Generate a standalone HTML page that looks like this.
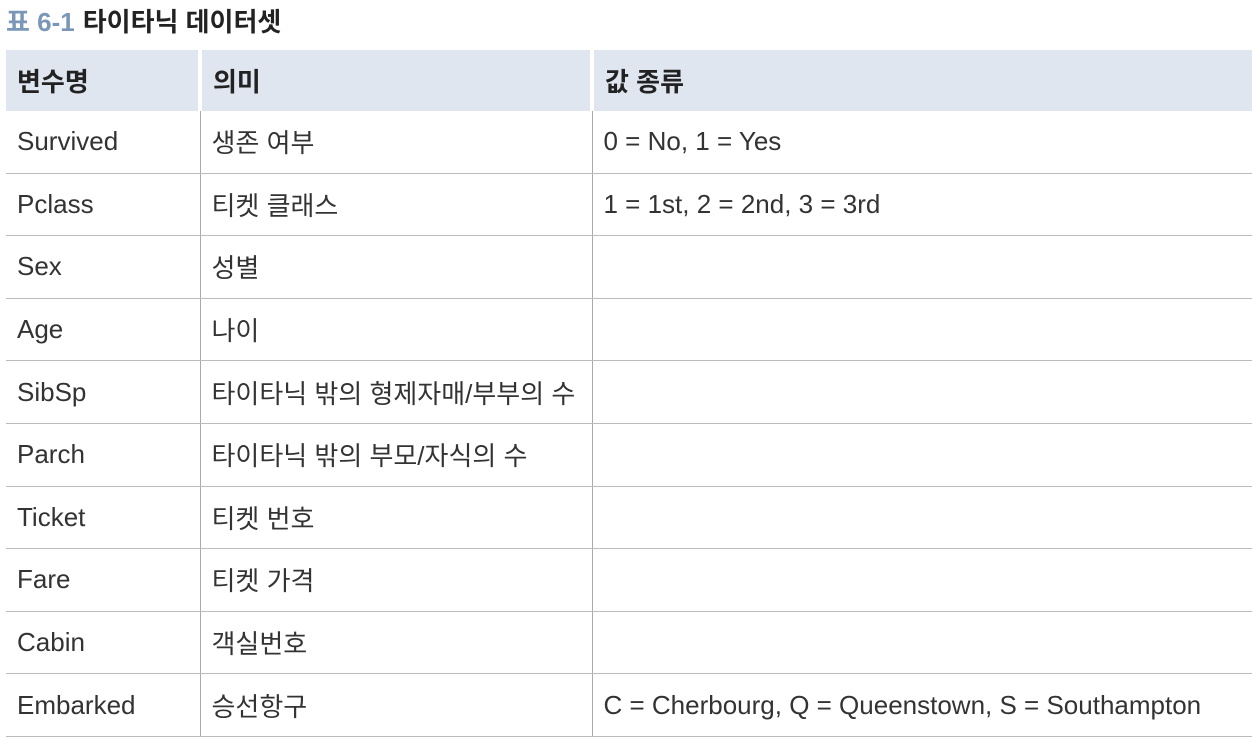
<!DOCTYPE html>
<html><head><meta charset="utf-8"><style>
html,body{margin:0;padding:0;background:#fff;width:1260px;height:744px;overflow:hidden}
body{font-family:"Liberation Sans","Noto Sans CJK KR",sans-serif;color:#333}
.title{position:absolute;left:6px;top:2px;font-size:26px;font-weight:bold;color:#222}
.title span{color:#7a97b8;margin-right:8px}
table{position:absolute;left:6px;top:50px;border-collapse:collapse;table-layout:fixed;width:1246px}
td,th{font-size:26px;text-align:left;padding:0 0 0 11px;height:61.6px;letter-spacing:0;font-weight:normal;white-space:nowrap}
th{background:#dfe6f0;font-weight:bold;color:#222;height:61px;border-left:4px solid #fff}
th:first-child{border-left:none}
td{border-bottom:1.5px solid #bbb;border-left:1.5px solid #aaa}
td:first-child{border-left:none}
</style></head><body>
<div class="title"><span>표 6-1</span>타이타닉 데이터셋</div>
<table>
<colgroup><col style="width:194px"><col style="width:392px"><col style="width:660px"></colgroup>
<tr><th>변수명</th><th>의미</th><th>값 종류</th></tr>
<tr><td>Survived</td><td>생존 여부</td><td>0 = No, 1 = Yes</td></tr>
<tr><td>Pclass</td><td>티켓 클래스</td><td>1 = 1st, 2 = 2nd, 3 = 3rd</td></tr>
<tr><td>Sex</td><td>성별</td><td></td></tr>
<tr><td>Age</td><td>나이</td><td></td></tr>
<tr><td>SibSp</td><td>타이타닉 밖의 형제자매/부부의 수</td><td></td></tr>
<tr><td>Parch</td><td>타이타닉 밖의 부모/자식의 수</td><td></td></tr>
<tr><td>Ticket</td><td>티켓 번호</td><td></td></tr>
<tr><td>Fare</td><td>티켓 가격</td><td></td></tr>
<tr><td>Cabin</td><td>객실번호</td><td></td></tr>
<tr><td>Embarked</td><td>승선항구</td><td>C = Cherbourg, Q = Queenstown, S = Southampton</td></tr>
</table>
</body></html>
